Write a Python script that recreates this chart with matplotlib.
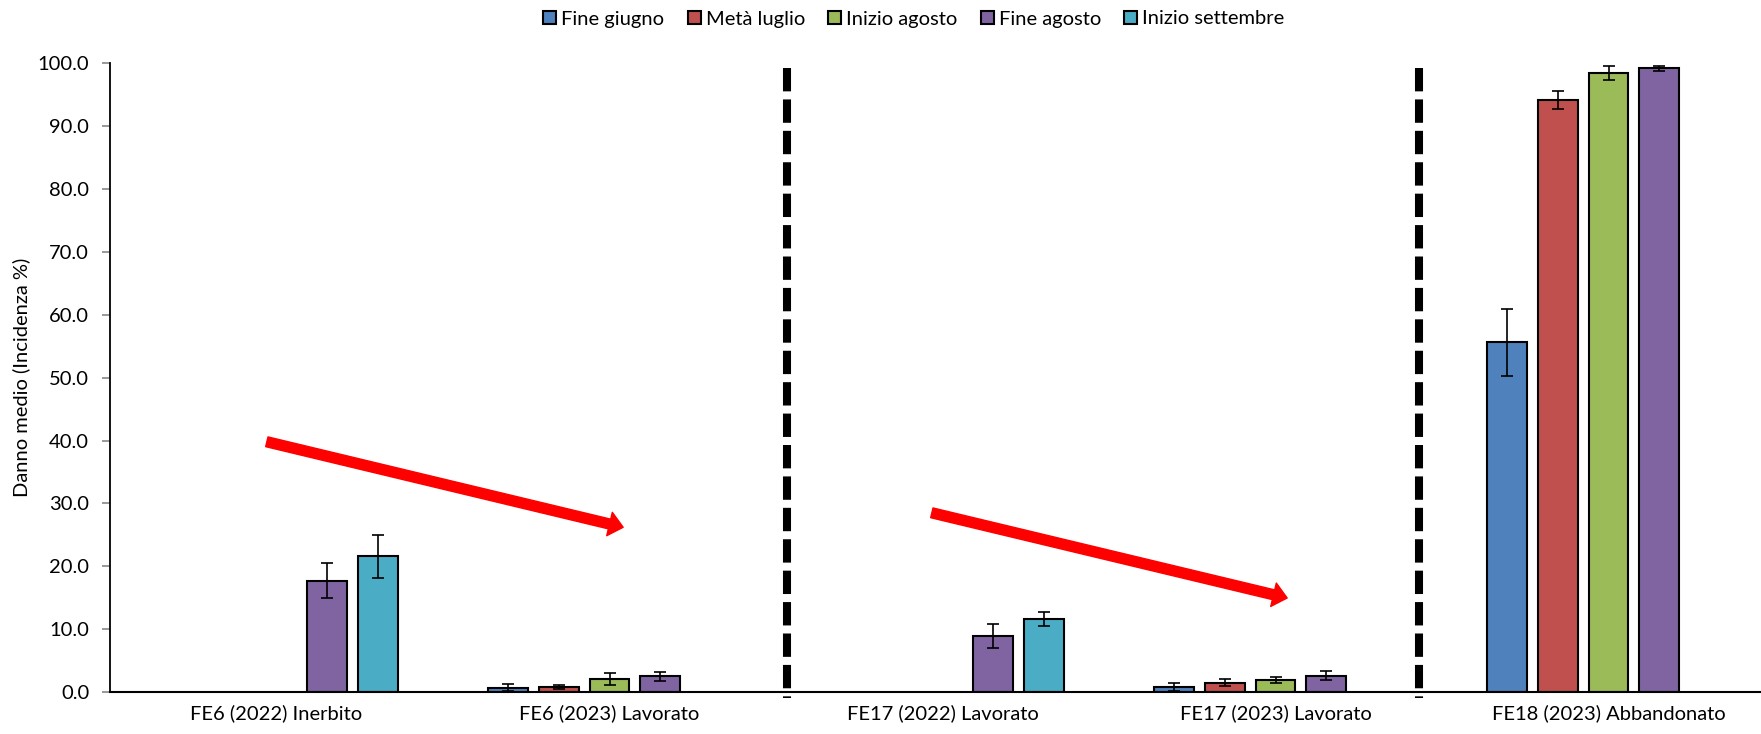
import matplotlib
matplotlib.use('Agg')
import matplotlib.pyplot as plt
from matplotlib.patches import FancyArrowPatch
import numpy as np

plt.rcParams['font.family'] = ['Lato', 'DejaVu Sans']

categories = ['FE6 (2022) Inerbito', 'FE6 (2023) Lavorato', 'FE17 (2022) Lavorato',
              'FE17 (2023) Lavorato', 'FE18 (2023) Abbandonato']
series = ['Fine giugno', 'Metà luglio', 'Inizio agosto', 'Fine agosto', 'Inizio settembre']
colors = ['#4F81BD', '#C0504D', '#9BBB59', '#8064A2', '#4BACC6']

nan = np.nan
fine_giugno = [nan, 0.7, nan, 0.8, 55.6]
meta_luglio = [nan, 0.8, nan, 1.5, 94.2]
inizio_agosto = [nan, 2.1, nan, 1.9, 98.5]
fine_agosto = [17.7, 2.5, 8.9, 2.6, 99.2]
inizio_settembre = [21.6, nan, 11.6, nan, nan]

err_fine_giugno = [nan, 0.6, nan, 0.7, 5.3]
err_meta_luglio = [nan, 0.3, nan, 0.6, 1.4]
err_inizio_agosto = [nan, 1.0, nan, 0.5, 1.1]
err_fine_agosto = [2.8, 0.7, 1.9, 0.7, 0.35]
err_inizio_settembre = [3.4, nan, 1.1, nan, nan]

values = [fine_giugno, meta_luglio, inizio_agosto, fine_agosto, inizio_settembre]
errors = [err_fine_giugno, err_meta_luglio, err_inizio_agosto, err_fine_agosto, err_inizio_settembre]

fig = plt.figure(figsize=(17.61, 7.34), dpi=100)
ax = fig.add_axes([110 / 1761, 42 / 734, 1 - 110 / 1761, (692 - 63.3) / 734])

x = np.arange(len(categories))
step = 0.153
width = 0.12
for i, (name, vals, errs, c) in enumerate(zip(series, values, errors, colors)):
    pos = x + (i - 2) * step
    ax.bar(pos, vals, width, color=c, edgecolor='black', linewidth=1.5, label=name, zorder=2)
    ax.errorbar(pos, vals, yerr=errs, fmt='none', ecolor='black', elinewidth=1.2,
                capsize=4, capthick=1.2, zorder=3)

# dashed separators
for xs in [1.532, 3.432]:
    ax.plot([xs, xs], [99.3, -0.95], color='black', linewidth=5.8,
            linestyle=(0, (2.9, 1.0)), dash_capstyle='butt', clip_on=False, zorder=4)

# red arrows
for (x0, y0), (x1, y1) in [((-0.029, 39.8), (1.041, 26.2)), ((1.968, 28.5), (3.035, 14.95))]:
    arr = FancyArrowPatch((x0, y0), (x1, y1),
                          arrowstyle='simple,head_length=1.4,head_width=2.4,tail_width=1.0',
                          mutation_scale=7.2, color='#FF0000', shrinkA=0, shrinkB=0, zorder=5)
    ax.add_patch(arr)

ax.set_xlim(-0.5, (1761 - 276.5) / 333)
ax.set_ylim(0, 100)
ax.set_yticks(np.arange(0, 101, 10))
ax.set_yticklabels(['%.1f' % v for v in np.arange(0, 101, 10)], fontsize=14.5)
ax.set_xticks(x)
ax.set_xticklabels(categories, fontsize=14.5)
ax.tick_params(axis='x', length=0, pad=9)
ax.tick_params(axis='y', length=6, width=1.2, color='#888888', pad=9)
ax.spines['top'].set_visible(False)
ax.spines['right'].set_visible(False)
ax.spines['left'].set_linewidth(1.3)
ax.spines['bottom'].set_linewidth(1.5)
ax.set_ylabel('Danno medio (Incidenza %)', fontsize=14.5, labelpad=5)

fig.legend(loc='center', bbox_to_anchor=(914 / 1761, 1 - 19 / 734), ncol=5, frameon=False,
           fontsize=14.5, handlelength=0.65, handleheight=0.65, handletextpad=0.25,
           columnspacing=1.15)

fig.savefig('out.png', dpi=100)
